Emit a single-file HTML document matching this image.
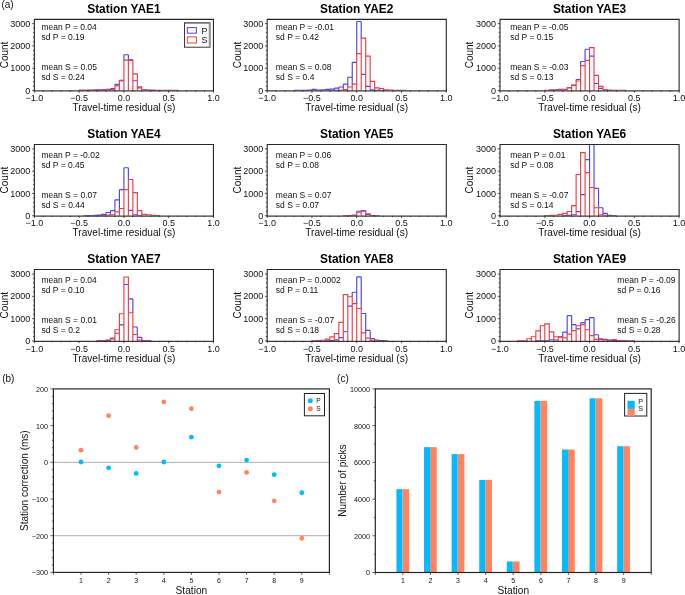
<!DOCTYPE html><html><head><meta charset="utf-8"><style>html,body{margin:0;padding:0;background:#fff;overflow:hidden}svg{display:block;will-change:transform}text{font-family:"Liberation Sans",sans-serif}</style></head><body>
<svg width="685" height="595" viewBox="0 0 685 595">
<rect width="685" height="595" fill="#fff"/>
<clipPath id="clip00"><rect x="34.35" y="19.4" width="179.1" height="71.15"/></clipPath>
<text x="123.9" y="13" font-size="11.9" font-weight="bold" text-anchor="middle" fill="#000">Station YAE1</text>
<path clip-path="url(#clip00)" fill="none" stroke="#4646f2" stroke-width="1.15" d="M97.03 89.99V89.88M101.51 89.88V89.77M105.99 89.75V89.44M110.47 89.32V88.65M114.95 85.87V84.33M119.42 80.96V80.25M123.9 60.11V54.71M128.38 60.11V54.71M132.86 60.31V59.78M79.12 90.37H83.6M83.6 90.33H88.08M88.08 90.22H92.56M92.56 90.1H97.04M97.03 89.88H101.51M101.51 89.77H105.99M105.99 89.44H110.47M110.47 88.65H114.95M114.95 84.33H119.42M119.42 80.25H123.9M123.9 54.71H128.38M128.38 59.78H132.85M132.86 80.76H137.33M137.33 87.92H141.81M141.81 89.75H146.29M146.29 90.22H150.76M150.77 90.37H155.24"/>
<path clip-path="url(#clip00)" fill="none" stroke="#ea3f48" stroke-width="1.15" stroke-linecap="square" d="M79.12 90.55V90.33M83.6 90.55V90.22M88.08 90.55V90.1M92.56 90.55V89.99M97.03 90.55V89.99M101.51 90.55V89.88M105.99 90.55V89.75M110.47 90.55V89.32M114.95 90.55V85.87M119.42 90.55V80.96M123.9 90.55V60.11M128.38 90.55V60.11M132.86 90.55V60.31M137.33 90.55V73.94M141.81 90.55V86.89M146.29 90.55V89.75M150.77 90.55V90.1M155.24 90.55V90.33M159.72 90.55V90.44M164.2 90.55V90.44M168.68 90.55V90.44M173.15 90.55V90.44M177.63 90.55V90.44M79.12 90.33H83.6M83.6 90.22H88.08M88.08 90.1H92.56M92.56 89.99H97.04M97.03 89.99H101.51M101.51 89.88H105.99M105.99 89.75H110.47M110.47 89.32H114.95M114.95 85.87H119.42M119.42 80.96H123.9M123.9 60.11H128.38M128.38 60.31H132.85M132.86 73.94H137.33M137.33 86.89H141.81M141.81 89.75H146.29M146.29 90.1H150.76M150.77 90.33H155.24M155.24 90.44H159.72M159.72 90.44H164.2M164.2 90.44H168.67M168.68 90.44H173.15M173.15 90.44H177.63"/>
<path d="M34.35 90.9V19.4H213.45V90.9" fill="none" stroke="#262626" stroke-width="1.1"/>
<path d="M33.8 90.9H214" fill="none" stroke="#3a3a3a" stroke-width="1.25"/>
<path d="M32.15 90.55H34.35M33.05 86.09H34.35M33.05 81.63H34.35M33.05 77.17H34.35M33.05 72.71H34.35M32.15 68.25H34.35M33.05 63.79H34.35M33.05 59.33H34.35M33.05 54.87H34.35M33.05 50.41H34.35M32.15 45.95H34.35M33.05 41.49H34.35M33.05 37.03H34.35M33.05 32.57H34.35M33.05 28.11H34.35M32.15 23.65H34.35M34.35 90.55V92.75M43.31 90.55V91.85M52.26 90.55V91.85M61.22 90.55V91.85M70.17 90.55V91.85M79.12 90.55V92.75M88.08 90.55V91.85M97.04 90.55V91.85M105.99 90.55V91.85M114.95 90.55V91.85M123.9 90.55V92.75M132.86 90.55V91.85M141.81 90.55V91.85M150.77 90.55V91.85M159.72 90.55V91.85M168.68 90.55V92.75M177.63 90.55V91.85M186.59 90.55V91.85M195.54 90.55V91.85M204.5 90.55V91.85M213.45 90.55V92.75" stroke="#262626" stroke-width="0.8" fill="none"/>
<text x="30.35" y="93.65" font-size="9" text-anchor="end" fill="#111">0</text>
<text x="30.35" y="71.35" font-size="9" text-anchor="end" fill="#111">1000</text>
<text x="30.35" y="49.05" font-size="9" text-anchor="end" fill="#111">2000</text>
<text x="30.35" y="26.75" font-size="9" text-anchor="end" fill="#111">3000</text>
<text x="34.35" y="101.15" font-size="9" text-anchor="middle" fill="#111">−1.0</text>
<text x="79.12" y="101.15" font-size="9" text-anchor="middle" fill="#111">−0.5</text>
<text x="123.9" y="101.15" font-size="9" text-anchor="middle" fill="#111">0.0</text>
<text x="168.68" y="101.15" font-size="9" text-anchor="middle" fill="#111">0.5</text>
<text x="213.45" y="101.15" font-size="9" text-anchor="middle" fill="#111">1.0</text>
<text x="123.9" y="111.25" font-size="10.1" text-anchor="middle" fill="#111">Travel-time residual (s)</text>
<text transform="translate(7.75 54.97) rotate(-90)" font-size="10" text-anchor="middle" fill="#111">Count</text>
<text x="41.45" y="30" font-size="8.5" fill="#111">mean P = 0.04</text>
<text x="41.45" y="40.2" font-size="8.5" fill="#111">sd P = 0.19</text>
<text x="41.45" y="70" font-size="8.5" fill="#111">mean S = 0.05</text>
<text x="41.45" y="80.2" font-size="8.5" fill="#111">sd S = 0.24</text>
<clipPath id="clip01"><rect x="267.18" y="19.4" width="179.1" height="71.15"/></clipPath>
<text x="356.73" y="13" font-size="11.9" font-weight="bold" text-anchor="middle" fill="#000">Station YAE2</text>
<path clip-path="url(#clip01)" fill="none" stroke="#4646f2" stroke-width="1.15" d="M294.05 90.55V90.44M298.52 90.55V90.44M303 90.55V90.33M307.48 90.55V90.15M311.96 90.55V89.32M316.43 90.55V89.32M320.91 90.55V89.88M325.39 90.55V89.32M329.87 90.55V89.17M334.34 90.33V88.16M338.82 90.22V87.03M343.3 89.55V84.13M347.78 87.03V77.21M352.25 84.13V62.34M356.73 53.67V21.51M361.21 38.14V21.51M294.05 90.44H298.52M298.52 90.44H303M303 90.33H307.48M307.48 90.15H311.96M311.96 89.32H316.43M316.43 90.15H320.91M320.91 89.88H325.39M325.39 89.32H329.87M329.87 89.17H334.34M334.34 88.16H338.82M338.82 87.03H343.3M343.3 84.13H347.78M347.78 77.21H352.25M352.25 62.34H356.73M356.73 21.51H361.21M361.21 74.32H365.69M365.69 86.4H370.16M370.16 89.81H374.64M374.64 90.33H379.12M379.12 90.33H383.6"/>
<path clip-path="url(#clip01)" fill="none" stroke="#ea3f48" stroke-width="1.15" stroke-linecap="square" d="M334.34 90.55V90.33M338.82 90.55V90.22M343.3 90.55V89.55M347.78 90.55V87.03M352.25 90.55V84.13M356.73 90.55V53.67M361.21 90.55V38.14M365.69 90.55V38.14M370.16 90.55V56.19M374.64 90.55V81.36M379.12 90.55V87.92M383.6 90.55V88.54M388.07 90.55V89.81M392.55 90.55V90.15M397.03 90.55V90.33M401.5 90.55V90.37M405.98 90.55V90.44M334.34 90.33H338.82M338.82 90.22H343.3M343.3 89.55H347.78M347.78 87.03H352.25M352.25 84.13H356.73M356.73 53.67H361.21M361.21 38.14H365.69M365.69 56.19H370.16M370.16 81.36H374.64M374.64 87.92H379.12M379.12 88.54H383.6M383.6 89.81H388.07M388.07 90.15H392.55M392.55 90.33H397.03M397.03 90.37H401.51M401.5 90.44H405.98"/>
<path d="M267.18 90.9V19.4H446.28V90.9" fill="none" stroke="#262626" stroke-width="1.1"/>
<path d="M266.63 90.9H446.83" fill="none" stroke="#3a3a3a" stroke-width="1.25"/>
<path d="M264.98 90.55H267.18M265.88 86.09H267.18M265.88 81.63H267.18M265.88 77.17H267.18M265.88 72.71H267.18M264.98 68.25H267.18M265.88 63.79H267.18M265.88 59.33H267.18M265.88 54.87H267.18M265.88 50.41H267.18M264.98 45.95H267.18M265.88 41.49H267.18M265.88 37.03H267.18M265.88 32.57H267.18M265.88 28.11H267.18M264.98 23.65H267.18M267.18 90.55V92.75M276.13 90.55V91.85M285.09 90.55V91.85M294.05 90.55V91.85M303 90.55V91.85M311.95 90.55V92.75M320.91 90.55V91.85M329.87 90.55V91.85M338.82 90.55V91.85M347.77 90.55V91.85M356.73 90.55V92.75M365.69 90.55V91.85M374.64 90.55V91.85M383.6 90.55V91.85M392.55 90.55V91.85M401.5 90.55V92.75M410.46 90.55V91.85M419.42 90.55V91.85M428.37 90.55V91.85M437.33 90.55V91.85M446.28 90.55V92.75" stroke="#262626" stroke-width="0.8" fill="none"/>
<text x="263.18" y="93.65" font-size="9" text-anchor="end" fill="#111">0</text>
<text x="263.18" y="71.35" font-size="9" text-anchor="end" fill="#111">1000</text>
<text x="263.18" y="49.05" font-size="9" text-anchor="end" fill="#111">2000</text>
<text x="263.18" y="26.75" font-size="9" text-anchor="end" fill="#111">3000</text>
<text x="267.18" y="101.15" font-size="9" text-anchor="middle" fill="#111">−1.0</text>
<text x="311.95" y="101.15" font-size="9" text-anchor="middle" fill="#111">−0.5</text>
<text x="356.73" y="101.15" font-size="9" text-anchor="middle" fill="#111">0.0</text>
<text x="401.5" y="101.15" font-size="9" text-anchor="middle" fill="#111">0.5</text>
<text x="446.28" y="101.15" font-size="9" text-anchor="middle" fill="#111">1.0</text>
<text x="356.73" y="111.25" font-size="10.1" text-anchor="middle" fill="#111">Travel-time residual (s)</text>
<text transform="translate(240.58 54.97) rotate(-90)" font-size="10" text-anchor="middle" fill="#111">Count</text>
<text x="275.85" y="30" font-size="8.5" fill="#111">mean P = -0.01</text>
<text x="275.85" y="40.2" font-size="8.5" fill="#111">sd P = 0.42</text>
<text x="275.85" y="70" font-size="8.5" fill="#111">mean S = 0.08</text>
<text x="275.85" y="80.2" font-size="8.5" fill="#111">sd S = 0.4</text>
<clipPath id="clip02"><rect x="500.01" y="19.4" width="179.1" height="71.15"/></clipPath>
<text x="589.56" y="13" font-size="11.9" font-weight="bold" text-anchor="middle" fill="#000">Station YAE3</text>
<path clip-path="url(#clip02)" fill="none" stroke="#4646f2" stroke-width="1.15" d="M553.74 89.99V89.88M558.22 89.88V89.44M562.7 89.66V89.44M576.13 80.98V79.47M580.61 65.6V61.47M585.08 60.44V49.25M549.26 90.1H553.74M553.74 89.88H558.22M558.22 89.44H562.7M562.7 89.44H567.17M567.17 87.92H571.65M571.65 85.38H576.13M576.13 79.47H580.61M580.61 61.47H585.08M585.08 49.25H589.56M589.56 56.19H594.04M594.04 83.5H598.51M598.52 88.3H602.99M602.99 90.06H607.47M607.47 90.37H611.95"/>
<path clip-path="url(#clip02)" fill="none" stroke="#ea3f48" stroke-width="1.15" stroke-linecap="square" d="M544.79 90.55V90.22M549.26 90.55V90.1M553.74 90.55V89.99M558.22 90.55V89.88M562.7 90.55V89.66M567.17 90.55V87.52M571.65 90.55V85.13M576.13 90.55V80.98M580.61 90.55V65.6M585.08 90.55V60.44M589.56 90.55V47.62M594.04 90.55V47.62M598.52 90.55V75.32M602.99 90.55V86.4M607.47 90.55V89.81M611.95 90.55V90.33M616.43 90.55V90.37M620.9 90.55V90.44M625.38 90.55V90.44M544.79 90.22H549.26M549.26 90.1H553.74M553.74 89.99H558.22M558.22 89.88H562.7M562.7 89.66H567.17M567.17 87.52H571.65M571.65 85.13H576.13M576.13 80.98H580.61M580.61 65.6H585.08M585.08 60.44H589.56M589.56 47.62H594.04M594.04 75.32H598.51M598.52 86.4H602.99M602.99 89.81H607.47M607.47 90.33H611.95M611.95 90.37H616.43M616.43 90.44H620.9M620.9 90.44H625.38"/>
<path d="M500.01 90.9V19.4H679.11V90.9" fill="none" stroke="#262626" stroke-width="1.1"/>
<path d="M499.46 90.9H679.66" fill="none" stroke="#3a3a3a" stroke-width="1.25"/>
<path d="M497.81 90.55H500.01M498.71 86.09H500.01M498.71 81.63H500.01M498.71 77.17H500.01M498.71 72.71H500.01M497.81 68.25H500.01M498.71 63.79H500.01M498.71 59.33H500.01M498.71 54.87H500.01M498.71 50.41H500.01M497.81 45.95H500.01M498.71 41.49H500.01M498.71 37.03H500.01M498.71 32.57H500.01M498.71 28.11H500.01M497.81 23.65H500.01M500.01 90.55V92.75M508.97 90.55V91.85M517.92 90.55V91.85M526.88 90.55V91.85M535.83 90.55V91.85M544.79 90.55V92.75M553.74 90.55V91.85M562.7 90.55V91.85M571.65 90.55V91.85M580.61 90.55V91.85M589.56 90.55V92.75M598.52 90.55V91.85M607.47 90.55V91.85M616.43 90.55V91.85M625.38 90.55V91.85M634.34 90.55V92.75M643.29 90.55V91.85M652.25 90.55V91.85M661.2 90.55V91.85M670.16 90.55V91.85M679.11 90.55V92.75" stroke="#262626" stroke-width="0.8" fill="none"/>
<text x="496.01" y="93.65" font-size="9" text-anchor="end" fill="#111">0</text>
<text x="496.01" y="71.35" font-size="9" text-anchor="end" fill="#111">1000</text>
<text x="496.01" y="49.05" font-size="9" text-anchor="end" fill="#111">2000</text>
<text x="496.01" y="26.75" font-size="9" text-anchor="end" fill="#111">3000</text>
<text x="500.01" y="101.15" font-size="9" text-anchor="middle" fill="#111">−1.0</text>
<text x="544.79" y="101.15" font-size="9" text-anchor="middle" fill="#111">−0.5</text>
<text x="589.56" y="101.15" font-size="9" text-anchor="middle" fill="#111">0.0</text>
<text x="634.34" y="101.15" font-size="9" text-anchor="middle" fill="#111">0.5</text>
<text x="679.11" y="101.15" font-size="9" text-anchor="middle" fill="#111">1.0</text>
<text x="589.56" y="111.25" font-size="10.1" text-anchor="middle" fill="#111">Travel-time residual (s)</text>
<text transform="translate(473.41 54.97) rotate(-90)" font-size="10" text-anchor="middle" fill="#111">Count</text>
<text x="510.2" y="30" font-size="8.5" fill="#111">mean P = -0.05</text>
<text x="510.2" y="40.2" font-size="8.5" fill="#111">sd P = 0.15</text>
<text x="510.2" y="70" font-size="8.5" fill="#111">mean S = -0.03</text>
<text x="510.2" y="80.2" font-size="8.5" fill="#111">sd S = 0.13</text>
<clipPath id="clip10"><rect x="34.35" y="144.45" width="179.1" height="71.3"/></clipPath>
<text x="123.9" y="138.05" font-size="11.9" font-weight="bold" text-anchor="middle" fill="#000">Station YAE4</text>
<path clip-path="url(#clip10)" fill="none" stroke="#4646f2" stroke-width="1.15" d="M83.6 215.75V215.57M88.08 215.75V215.53M92.56 215.75V215.3M97.03 215.53V215.08M101.51 215.3V214.37M105.99 215.08V212.47M110.47 214.75V210.58M114.95 211.85V199.87M119.42 208.46V189.55M123.9 189.55V167.76M128.38 179.47V167.76M83.6 215.57H88.08M88.08 215.53H92.56M92.56 215.3H97.04M97.03 215.08H101.51M101.51 214.37H105.99M105.99 212.47H110.47M110.47 210.58H114.95M114.95 199.87H119.42M119.42 189.55H123.9M123.9 167.76H128.38M128.38 210.33H132.85M132.86 214.75H137.33M137.33 215.53H141.81"/>
<path clip-path="url(#clip10)" fill="none" stroke="#ea3f48" stroke-width="1.15" stroke-linecap="square" d="M97.03 215.75V215.53M101.51 215.75V215.3M105.99 215.75V215.08M110.47 215.75V214.75M114.95 215.75V211.85M119.42 215.75V208.46M123.9 215.75V189.55M128.38 215.75V179.47M132.86 215.75V179.47M137.33 215.75V192.58M141.81 215.75V210.58M146.29 215.75V214.37M150.77 215.75V214.75M155.24 215.75V215.42M159.72 215.75V215.57M97.03 215.53H101.51M101.51 215.3H105.99M105.99 215.08H110.47M110.47 214.75H114.95M114.95 211.85H119.42M119.42 208.46H123.9M123.9 189.55H128.38M128.38 179.47H132.85M132.86 192.58H137.33M137.33 210.58H141.81M141.81 214.37H146.29M146.29 214.75H150.76M150.77 215.42H155.24M155.24 215.57H159.72"/>
<path d="M34.35 216.1V144.45H213.45V216.1" fill="none" stroke="#262626" stroke-width="1.1"/>
<path d="M33.8 216.1H214" fill="none" stroke="#3a3a3a" stroke-width="1.25"/>
<path d="M32.15 215.75H34.35M33.05 211.29H34.35M33.05 206.83H34.35M33.05 202.37H34.35M33.05 197.91H34.35M32.15 193.45H34.35M33.05 188.99H34.35M33.05 184.53H34.35M33.05 180.07H34.35M33.05 175.61H34.35M32.15 171.15H34.35M33.05 166.69H34.35M33.05 162.23H34.35M33.05 157.77H34.35M33.05 153.31H34.35M32.15 148.85H34.35M34.35 215.75V217.95M43.31 215.75V217.05M52.26 215.75V217.05M61.22 215.75V217.05M70.17 215.75V217.05M79.12 215.75V217.95M88.08 215.75V217.05M97.04 215.75V217.05M105.99 215.75V217.05M114.95 215.75V217.05M123.9 215.75V217.95M132.86 215.75V217.05M141.81 215.75V217.05M150.77 215.75V217.05M159.72 215.75V217.05M168.68 215.75V217.95M177.63 215.75V217.05M186.59 215.75V217.05M195.54 215.75V217.05M204.5 215.75V217.05M213.45 215.75V217.95" stroke="#262626" stroke-width="0.8" fill="none"/>
<text x="30.35" y="218.85" font-size="9" text-anchor="end" fill="#111">0</text>
<text x="30.35" y="196.55" font-size="9" text-anchor="end" fill="#111">1000</text>
<text x="30.35" y="174.25" font-size="9" text-anchor="end" fill="#111">2000</text>
<text x="30.35" y="151.95" font-size="9" text-anchor="end" fill="#111">3000</text>
<text x="34.35" y="226.35" font-size="9" text-anchor="middle" fill="#111">−1.0</text>
<text x="79.12" y="226.35" font-size="9" text-anchor="middle" fill="#111">−0.5</text>
<text x="123.9" y="226.35" font-size="9" text-anchor="middle" fill="#111">0.0</text>
<text x="168.68" y="226.35" font-size="9" text-anchor="middle" fill="#111">0.5</text>
<text x="213.45" y="226.35" font-size="9" text-anchor="middle" fill="#111">1.0</text>
<text x="123.9" y="236.45" font-size="10.1" text-anchor="middle" fill="#111">Travel-time residual (s)</text>
<text transform="translate(7.75 180.1) rotate(-90)" font-size="10" text-anchor="middle" fill="#111">Count</text>
<text x="41.45" y="157.85" font-size="8.5" fill="#111">mean P = -0.02</text>
<text x="41.45" y="167.85" font-size="8.5" fill="#111">sd P = 0.45</text>
<text x="41.45" y="197.65" font-size="8.5" fill="#111">mean S = 0.07</text>
<text x="41.45" y="207.65" font-size="8.5" fill="#111">sd S = 0.44</text>
<clipPath id="clip11"><rect x="267.18" y="144.45" width="179.1" height="71.3"/></clipPath>
<text x="356.73" y="138.05" font-size="11.9" font-weight="bold" text-anchor="middle" fill="#000">Station YAE5</text>
<path clip-path="url(#clip11)" fill="none" stroke="#4646f2" stroke-width="1.15" d="M356.73 212.23V211.22M361.21 211.22V210.6M365.69 211.22V210.6M347.78 215.57H352.25M352.25 215.26H356.73M356.73 211.22H361.21M361.21 210.6H365.69M365.69 214.37H370.16M370.16 215.64H374.64"/>
<path clip-path="url(#clip11)" fill="none" stroke="#ea3f48" stroke-width="1.15" stroke-linecap="square" d="M343.3 215.75V215.64M347.78 215.75V215.57M352.25 215.75V215.26M356.73 215.75V212.23M361.21 215.75V211.22M365.69 215.75V211.22M370.16 215.75V213.74M374.64 215.75V215.53M379.12 215.75V215.64M343.3 215.64H347.78M347.78 215.57H352.25M352.25 215.26H356.73M356.73 212.23H361.21M361.21 211.22H365.69M365.69 213.74H370.16M370.16 215.53H374.64M374.64 215.64H379.12"/>
<path d="M267.18 216.1V144.45H446.28V216.1" fill="none" stroke="#262626" stroke-width="1.1"/>
<path d="M266.63 216.1H446.83" fill="none" stroke="#3a3a3a" stroke-width="1.25"/>
<path d="M264.98 215.75H267.18M265.88 211.29H267.18M265.88 206.83H267.18M265.88 202.37H267.18M265.88 197.91H267.18M264.98 193.45H267.18M265.88 188.99H267.18M265.88 184.53H267.18M265.88 180.07H267.18M265.88 175.61H267.18M264.98 171.15H267.18M265.88 166.69H267.18M265.88 162.23H267.18M265.88 157.77H267.18M265.88 153.31H267.18M264.98 148.85H267.18M267.18 215.75V217.95M276.13 215.75V217.05M285.09 215.75V217.05M294.05 215.75V217.05M303 215.75V217.05M311.95 215.75V217.95M320.91 215.75V217.05M329.87 215.75V217.05M338.82 215.75V217.05M347.77 215.75V217.05M356.73 215.75V217.95M365.69 215.75V217.05M374.64 215.75V217.05M383.6 215.75V217.05M392.55 215.75V217.05M401.5 215.75V217.95M410.46 215.75V217.05M419.42 215.75V217.05M428.37 215.75V217.05M437.33 215.75V217.05M446.28 215.75V217.95" stroke="#262626" stroke-width="0.8" fill="none"/>
<text x="263.18" y="218.85" font-size="9" text-anchor="end" fill="#111">0</text>
<text x="263.18" y="196.55" font-size="9" text-anchor="end" fill="#111">1000</text>
<text x="263.18" y="174.25" font-size="9" text-anchor="end" fill="#111">2000</text>
<text x="263.18" y="151.95" font-size="9" text-anchor="end" fill="#111">3000</text>
<text x="267.18" y="226.35" font-size="9" text-anchor="middle" fill="#111">−1.0</text>
<text x="311.95" y="226.35" font-size="9" text-anchor="middle" fill="#111">−0.5</text>
<text x="356.73" y="226.35" font-size="9" text-anchor="middle" fill="#111">0.0</text>
<text x="401.5" y="226.35" font-size="9" text-anchor="middle" fill="#111">0.5</text>
<text x="446.28" y="226.35" font-size="9" text-anchor="middle" fill="#111">1.0</text>
<text x="356.73" y="236.45" font-size="10.1" text-anchor="middle" fill="#111">Travel-time residual (s)</text>
<text transform="translate(240.58 180.1) rotate(-90)" font-size="10" text-anchor="middle" fill="#111">Count</text>
<text x="275.85" y="157.85" font-size="8.5" fill="#111">mean P = 0.06</text>
<text x="275.85" y="167.85" font-size="8.5" fill="#111">sd P = 0.08</text>
<text x="275.85" y="197.65" font-size="8.5" fill="#111">mean S = 0.07</text>
<text x="275.85" y="207.65" font-size="8.5" fill="#111">sd S = 0.07</text>
<clipPath id="clip12"><rect x="500.01" y="144.45" width="179.1" height="71.3"/></clipPath>
<text x="589.56" y="138.05" font-size="11.9" font-weight="bold" text-anchor="middle" fill="#000">Station YAE6</text>
<path clip-path="url(#clip12)" fill="none" stroke="#4646f2" stroke-width="1.15" d="M589.56 172.55V137.7M594.04 187.54V137.7M598.52 207.7V188.3M602.99 214.75V207.7M607.47 215.26V213.36M611.95 215.57V215.26M616.43 215.75V215.53M562.7 215.53H567.17M567.17 215.3H571.65M571.65 214.75H576.13M576.13 211.6H580.61M580.61 194.59H585.08M585.08 159.55H589.56M589.56 137.7H594.04M594.04 188.3H598.51M598.52 207.7H602.99M602.99 213.36H607.47M607.47 215.26H611.95M611.95 215.53H616.43"/>
<path clip-path="url(#clip12)" fill="none" stroke="#ea3f48" stroke-width="1.15" stroke-linecap="square" d="M544.79 215.75V215.53M549.26 215.75V215.42M553.74 215.75V215.26M558.22 215.75V214.37M562.7 215.75V213.36M567.17 215.75V211.47M571.65 215.75V205.56M576.13 215.75V174.45M580.61 215.75V152.66M585.08 215.75V152.66M589.56 215.75V172.55M594.04 215.75V187.54M598.52 215.75V207.7M602.99 215.75V214.75M607.47 215.75V215.26M611.95 215.75V215.57M544.79 215.53H549.26M549.26 215.42H553.74M553.74 215.26H558.22M558.22 214.37H562.7M562.7 213.36H567.17M567.17 211.47H571.65M571.65 205.56H576.13M576.13 174.45H580.61M580.61 152.66H585.08M585.08 172.55H589.56M589.56 187.54H594.04M594.04 207.7H598.51M598.52 214.75H602.99M602.99 215.26H607.47M607.47 215.57H611.95"/>
<path d="M500.01 216.1V144.45H679.11V216.1" fill="none" stroke="#262626" stroke-width="1.1"/>
<path d="M499.46 216.1H679.66" fill="none" stroke="#3a3a3a" stroke-width="1.25"/>
<path d="M497.81 215.75H500.01M498.71 211.29H500.01M498.71 206.83H500.01M498.71 202.37H500.01M498.71 197.91H500.01M497.81 193.45H500.01M498.71 188.99H500.01M498.71 184.53H500.01M498.71 180.07H500.01M498.71 175.61H500.01M497.81 171.15H500.01M498.71 166.69H500.01M498.71 162.23H500.01M498.71 157.77H500.01M498.71 153.31H500.01M497.81 148.85H500.01M500.01 215.75V217.95M508.97 215.75V217.05M517.92 215.75V217.05M526.88 215.75V217.05M535.83 215.75V217.05M544.79 215.75V217.95M553.74 215.75V217.05M562.7 215.75V217.05M571.65 215.75V217.05M580.61 215.75V217.05M589.56 215.75V217.95M598.52 215.75V217.05M607.47 215.75V217.05M616.43 215.75V217.05M625.38 215.75V217.05M634.34 215.75V217.95M643.29 215.75V217.05M652.25 215.75V217.05M661.2 215.75V217.05M670.16 215.75V217.05M679.11 215.75V217.95" stroke="#262626" stroke-width="0.8" fill="none"/>
<text x="496.01" y="218.85" font-size="9" text-anchor="end" fill="#111">0</text>
<text x="496.01" y="196.55" font-size="9" text-anchor="end" fill="#111">1000</text>
<text x="496.01" y="174.25" font-size="9" text-anchor="end" fill="#111">2000</text>
<text x="496.01" y="151.95" font-size="9" text-anchor="end" fill="#111">3000</text>
<text x="500.01" y="226.35" font-size="9" text-anchor="middle" fill="#111">−1.0</text>
<text x="544.79" y="226.35" font-size="9" text-anchor="middle" fill="#111">−0.5</text>
<text x="589.56" y="226.35" font-size="9" text-anchor="middle" fill="#111">0.0</text>
<text x="634.34" y="226.35" font-size="9" text-anchor="middle" fill="#111">0.5</text>
<text x="679.11" y="226.35" font-size="9" text-anchor="middle" fill="#111">1.0</text>
<text x="589.56" y="236.45" font-size="10.1" text-anchor="middle" fill="#111">Travel-time residual (s)</text>
<text transform="translate(473.41 180.1) rotate(-90)" font-size="10" text-anchor="middle" fill="#111">Count</text>
<text x="510.2" y="157.85" font-size="8.5" fill="#111">mean P = 0.01</text>
<text x="510.2" y="167.85" font-size="8.5" fill="#111">sd P = 0.08</text>
<text x="510.2" y="197.65" font-size="8.5" fill="#111">mean S = -0.07</text>
<text x="510.2" y="207.65" font-size="8.5" fill="#111">sd S = 0.14</text>
<clipPath id="clip20"><rect x="34.35" y="269.5" width="179.1" height="71.45"/></clipPath>
<text x="123.9" y="263.1" font-size="11.9" font-weight="bold" text-anchor="middle" fill="#000">Station YAE7</text>
<path clip-path="url(#clip20)" fill="none" stroke="#4646f2" stroke-width="1.15" d="M132.86 312.74V298.87M137.33 334.53V326.97M141.81 339.95V337.43M146.29 340.62V340.46M97.03 340.77H101.51M101.51 340.73H105.99M105.99 340.46H110.47M110.47 338.94H114.95M114.95 333.28H119.42M119.42 324.83H123.9M123.9 284.51H128.38M128.38 298.87H132.85M132.86 326.97H137.33M137.33 337.43H141.81M141.81 340.46H146.29M146.29 340.73H150.76"/>
<path clip-path="url(#clip20)" fill="none" stroke="#ea3f48" stroke-width="1.15" stroke-linecap="square" d="M97.03 340.95V340.77M101.51 340.95V340.62M105.99 340.95V339.95M110.47 340.95V338.05M114.95 340.95V329.73M119.42 340.95V313.74M123.9 340.95V276.97M128.38 340.95V276.97M132.86 340.95V312.74M137.33 340.95V334.53M141.81 340.95V339.95M146.29 340.95V340.62M150.77 340.95V340.77M97.03 340.77H101.51M101.51 340.62H105.99M105.99 339.95H110.47M110.47 338.05H114.95M114.95 329.73H119.42M119.42 313.74H123.9M123.9 276.97H128.38M128.38 312.74H132.85M132.86 334.53H137.33M137.33 339.95H141.81M141.81 340.62H146.29M146.29 340.77H150.76"/>
<path d="M34.35 341.3V269.5H213.45V341.3" fill="none" stroke="#262626" stroke-width="1.1"/>
<path d="M33.8 341.3H214" fill="none" stroke="#3a3a3a" stroke-width="1.25"/>
<path d="M32.15 340.95H34.35M33.05 336.49H34.35M33.05 332.03H34.35M33.05 327.57H34.35M33.05 323.11H34.35M32.15 318.65H34.35M33.05 314.19H34.35M33.05 309.73H34.35M33.05 305.27H34.35M33.05 300.81H34.35M32.15 296.35H34.35M33.05 291.89H34.35M33.05 287.43H34.35M33.05 282.97H34.35M33.05 278.51H34.35M32.15 274.05H34.35M34.35 340.95V343.15M43.31 340.95V342.25M52.26 340.95V342.25M61.22 340.95V342.25M70.17 340.95V342.25M79.12 340.95V343.15M88.08 340.95V342.25M97.04 340.95V342.25M105.99 340.95V342.25M114.95 340.95V342.25M123.9 340.95V343.15M132.86 340.95V342.25M141.81 340.95V342.25M150.77 340.95V342.25M159.72 340.95V342.25M168.68 340.95V343.15M177.63 340.95V342.25M186.59 340.95V342.25M195.54 340.95V342.25M204.5 340.95V342.25M213.45 340.95V343.15" stroke="#262626" stroke-width="0.8" fill="none"/>
<text x="30.35" y="344.05" font-size="9" text-anchor="end" fill="#111">0</text>
<text x="30.35" y="321.75" font-size="9" text-anchor="end" fill="#111">1000</text>
<text x="30.35" y="299.45" font-size="9" text-anchor="end" fill="#111">2000</text>
<text x="30.35" y="277.15" font-size="9" text-anchor="end" fill="#111">3000</text>
<text x="34.35" y="351.55" font-size="9" text-anchor="middle" fill="#111">−1.0</text>
<text x="79.12" y="351.55" font-size="9" text-anchor="middle" fill="#111">−0.5</text>
<text x="123.9" y="351.55" font-size="9" text-anchor="middle" fill="#111">0.0</text>
<text x="168.68" y="351.55" font-size="9" text-anchor="middle" fill="#111">0.5</text>
<text x="213.45" y="351.55" font-size="9" text-anchor="middle" fill="#111">1.0</text>
<text x="123.9" y="361.65" font-size="10.1" text-anchor="middle" fill="#111">Travel-time residual (s)</text>
<text transform="translate(7.75 305.23) rotate(-90)" font-size="10" text-anchor="middle" fill="#111">Count</text>
<text x="41.45" y="282.9" font-size="8.5" fill="#111">mean P = 0.04</text>
<text x="41.45" y="292.9" font-size="8.5" fill="#111">sd P = 0.10</text>
<text x="41.45" y="322.7" font-size="8.5" fill="#111">mean S = 0.01</text>
<text x="41.45" y="332.7" font-size="8.5" fill="#111">sd S = 0.2</text>
<clipPath id="clip21"><rect x="267.18" y="269.5" width="179.1" height="71.45"/></clipPath>
<text x="356.73" y="263.1" font-size="11.9" font-weight="bold" text-anchor="middle" fill="#000">Station YAE8</text>
<path clip-path="url(#clip21)" fill="none" stroke="#4646f2" stroke-width="1.15" d="M352.25 296.75V292.22M356.73 303.66V276.84M361.21 308.46V276.84M365.69 332.9V313.5M370.16 338.05V330.38M374.64 340.21V338.56M379.12 340.73V339.95M383.6 340.95V340.46M388.07 340.95V340.73M325.39 340.73H329.87M329.87 340.46H334.34M334.34 339.83H338.82M338.82 337.67H343.3M343.3 331.76H347.78M347.78 306.07H352.25M352.25 292.22H356.73M356.73 276.84H361.21M361.21 313.5H365.69M365.69 330.38H370.16M370.16 338.56H374.64M374.64 339.95H379.12M379.12 340.46H383.6M383.6 340.73H388.07"/>
<path clip-path="url(#clip21)" fill="none" stroke="#ea3f48" stroke-width="1.15" stroke-linecap="square" d="M311.96 340.95V340.73M316.43 340.95V340.62M320.91 340.95V340.21M325.39 340.95V339.19M329.87 340.95V336.8M334.34 340.95V333.66M338.82 340.95V322.31M343.3 340.95V294.61M347.78 340.95V294.61M352.25 340.95V296.75M356.73 340.95V303.66M361.21 340.95V308.46M365.69 340.95V332.9M370.16 340.95V338.05M374.64 340.95V340.21M379.12 340.95V340.73M311.96 340.73H316.43M316.43 340.62H320.91M320.91 340.21H325.39M325.39 339.19H329.87M329.87 336.8H334.34M334.34 333.66H338.82M338.82 322.31H343.3M343.3 294.61H347.78M347.78 296.75H352.25M352.25 303.66H356.73M356.73 308.46H361.21M361.21 332.9H365.69M365.69 338.05H370.16M370.16 340.21H374.64M374.64 340.73H379.12"/>
<path d="M267.18 341.3V269.5H446.28V341.3" fill="none" stroke="#262626" stroke-width="1.1"/>
<path d="M266.63 341.3H446.83" fill="none" stroke="#3a3a3a" stroke-width="1.25"/>
<path d="M264.98 340.95H267.18M265.88 336.49H267.18M265.88 332.03H267.18M265.88 327.57H267.18M265.88 323.11H267.18M264.98 318.65H267.18M265.88 314.19H267.18M265.88 309.73H267.18M265.88 305.27H267.18M265.88 300.81H267.18M264.98 296.35H267.18M265.88 291.89H267.18M265.88 287.43H267.18M265.88 282.97H267.18M265.88 278.51H267.18M264.98 274.05H267.18M267.18 340.95V343.15M276.13 340.95V342.25M285.09 340.95V342.25M294.05 340.95V342.25M303 340.95V342.25M311.95 340.95V343.15M320.91 340.95V342.25M329.87 340.95V342.25M338.82 340.95V342.25M347.77 340.95V342.25M356.73 340.95V343.15M365.69 340.95V342.25M374.64 340.95V342.25M383.6 340.95V342.25M392.55 340.95V342.25M401.5 340.95V343.15M410.46 340.95V342.25M419.42 340.95V342.25M428.37 340.95V342.25M437.33 340.95V342.25M446.28 340.95V343.15" stroke="#262626" stroke-width="0.8" fill="none"/>
<text x="263.18" y="344.05" font-size="9" text-anchor="end" fill="#111">0</text>
<text x="263.18" y="321.75" font-size="9" text-anchor="end" fill="#111">1000</text>
<text x="263.18" y="299.45" font-size="9" text-anchor="end" fill="#111">2000</text>
<text x="263.18" y="277.15" font-size="9" text-anchor="end" fill="#111">3000</text>
<text x="267.18" y="351.55" font-size="9" text-anchor="middle" fill="#111">−1.0</text>
<text x="311.95" y="351.55" font-size="9" text-anchor="middle" fill="#111">−0.5</text>
<text x="356.73" y="351.55" font-size="9" text-anchor="middle" fill="#111">0.0</text>
<text x="401.5" y="351.55" font-size="9" text-anchor="middle" fill="#111">0.5</text>
<text x="446.28" y="351.55" font-size="9" text-anchor="middle" fill="#111">1.0</text>
<text x="356.73" y="361.65" font-size="10.1" text-anchor="middle" fill="#111">Travel-time residual (s)</text>
<text transform="translate(240.58 305.23) rotate(-90)" font-size="10" text-anchor="middle" fill="#111">Count</text>
<text x="275.85" y="282.9" font-size="8.5" fill="#111">mean P = 0.0002</text>
<text x="275.85" y="292.9" font-size="8.5" fill="#111">sd P = 0.11</text>
<text x="275.85" y="322.7" font-size="8.5" fill="#111">mean S = -0.07</text>
<text x="275.85" y="332.7" font-size="8.5" fill="#111">sd S = 0.18</text>
<clipPath id="clip22"><rect x="500.01" y="269.5" width="179.1" height="71.45"/></clipPath>
<text x="589.56" y="263.1" font-size="11.9" font-weight="bold" text-anchor="middle" fill="#000">Station YAE9</text>
<path clip-path="url(#clip22)" fill="none" stroke="#4646f2" stroke-width="1.15" d="M562.7 337.14V332.14M567.17 334.06V315.68M571.65 330.56V315.68M576.13 325.74V324.69M580.61 324.6V322.66M585.08 324.6V319.61M589.56 329.71V317.6M594.04 335.66V317.6M598.52 339.32V334.75M602.99 339.57V338.7M607.47 340.01V339.32M535.83 340.84H540.31M540.31 340.84H544.78M544.79 340.84H549.26M549.26 339.75H553.74M553.74 340.01H558.22M558.22 336.71H562.7M562.7 332.14H567.17M567.17 315.68H571.65M571.65 324.69H576.13M576.13 328.8H580.61M580.61 322.66H585.08M585.08 319.61H589.56M589.56 317.6H594.04M594.04 334.75H598.51M598.52 338.7H602.99M602.99 339.32H607.47M607.47 340.19H611.95M611.95 340.62H616.43M616.43 340.84H620.9M620.9 340.88H625.38"/>
<path clip-path="url(#clip22)" fill="none" stroke="#ea3f48" stroke-width="1.15" stroke-linecap="square" d="M517.92 340.95V340.84M522.4 340.95V340.73M526.88 340.95V338.72M531.35 340.95V336.71M535.83 340.95V330.83M540.31 340.95V325.74M544.79 340.95V323.82M549.26 340.95V323.82M553.74 340.95V331.87M558.22 340.95V336.71M562.7 340.95V337.14M567.17 340.95V334.06M571.65 340.95V330.56M576.13 340.95V325.74M580.61 340.95V324.6M585.08 340.95V324.6M589.56 340.95V329.71M594.04 340.95V335.66M598.52 340.95V339.32M602.99 340.95V339.57M607.47 340.95V340.01M611.95 340.95V339.57M616.43 340.95V339.57M620.9 340.95V340.62M625.38 340.95V340.84M629.86 340.95V340.84M634.34 340.95V340.88M517.92 340.84H522.4M522.4 340.73H526.88M526.88 338.72H531.35M531.35 336.71H535.83M535.83 330.83H540.31M540.31 325.74H544.78M544.79 323.82H549.26M549.26 331.87H553.74M553.74 336.71H558.22M558.22 337.14H562.7M562.7 337.83H567.17M567.17 334.06H571.65M571.65 330.56H576.13M576.13 325.74H580.61M580.61 324.6H585.08M585.08 329.71H589.56M589.56 335.66H594.04M594.04 339.32H598.51M598.52 339.57H602.99M602.99 340.01H607.47M607.47 340.62H611.95M611.95 339.57H616.43M616.43 340.62H620.9M620.9 340.84H625.38M625.38 340.84H629.86M629.86 340.88H634.34"/>
<path d="M500.01 341.3V269.5H679.11V341.3" fill="none" stroke="#262626" stroke-width="1.1"/>
<path d="M499.46 341.3H679.66" fill="none" stroke="#3a3a3a" stroke-width="1.25"/>
<path d="M497.81 340.95H500.01M498.71 336.49H500.01M498.71 332.03H500.01M498.71 327.57H500.01M498.71 323.11H500.01M497.81 318.65H500.01M498.71 314.19H500.01M498.71 309.73H500.01M498.71 305.27H500.01M498.71 300.81H500.01M497.81 296.35H500.01M498.71 291.89H500.01M498.71 287.43H500.01M498.71 282.97H500.01M498.71 278.51H500.01M497.81 274.05H500.01M500.01 340.95V343.15M508.97 340.95V342.25M517.92 340.95V342.25M526.88 340.95V342.25M535.83 340.95V342.25M544.79 340.95V343.15M553.74 340.95V342.25M562.7 340.95V342.25M571.65 340.95V342.25M580.61 340.95V342.25M589.56 340.95V343.15M598.52 340.95V342.25M607.47 340.95V342.25M616.43 340.95V342.25M625.38 340.95V342.25M634.34 340.95V343.15M643.29 340.95V342.25M652.25 340.95V342.25M661.2 340.95V342.25M670.16 340.95V342.25M679.11 340.95V343.15" stroke="#262626" stroke-width="0.8" fill="none"/>
<text x="496.01" y="344.05" font-size="9" text-anchor="end" fill="#111">0</text>
<text x="496.01" y="321.75" font-size="9" text-anchor="end" fill="#111">1000</text>
<text x="496.01" y="299.45" font-size="9" text-anchor="end" fill="#111">2000</text>
<text x="496.01" y="277.15" font-size="9" text-anchor="end" fill="#111">3000</text>
<text x="500.01" y="351.55" font-size="9" text-anchor="middle" fill="#111">−1.0</text>
<text x="544.79" y="351.55" font-size="9" text-anchor="middle" fill="#111">−0.5</text>
<text x="589.56" y="351.55" font-size="9" text-anchor="middle" fill="#111">0.0</text>
<text x="634.34" y="351.55" font-size="9" text-anchor="middle" fill="#111">0.5</text>
<text x="679.11" y="351.55" font-size="9" text-anchor="middle" fill="#111">1.0</text>
<text x="589.56" y="361.65" font-size="10.1" text-anchor="middle" fill="#111">Travel-time residual (s)</text>
<text transform="translate(473.41 305.23) rotate(-90)" font-size="10" text-anchor="middle" fill="#111">Count</text>
<text x="617.35" y="282.9" font-size="8.5" fill="#111">mean P = -0.09</text>
<text x="617.35" y="292.9" font-size="8.5" fill="#111">sd P = 0.16</text>
<text x="617.35" y="322.7" font-size="8.5" fill="#111">mean S = -0.26</text>
<text x="617.35" y="332.7" font-size="8.5" fill="#111">sd S = 0.28</text>
<rect x="184.5" y="22.8" width="25.5" height="24.4" fill="#fff" stroke="#222" stroke-width="0.9"/>
<path d="M185 23.5H209.3V46.8" fill="none" stroke="#999" stroke-width="1.2"/>
<rect x="187.3" y="27.6" width="9.1" height="5.6" fill="none" stroke="#4646f2" stroke-width="1"/>
<rect x="187.3" y="36.9" width="9.1" height="6.1" fill="none" stroke="#ea3f48" stroke-width="1"/>
<text x="201.5" y="33.5" font-size="9" fill="#111">P</text>
<text x="201.5" y="43.2" font-size="9" fill="#111">S</text>
<text x="1.4" y="7.8" font-size="10" fill="#111">(a)</text>
<text x="2.2" y="382.2" font-size="10" fill="#111">(b)</text>
<path d="M53.4 462.3H329.4" stroke="#999" stroke-width="0.8"/>
<path d="M53.4 535.7H329.4" stroke="#999" stroke-width="0.8"/>
<circle cx="81" cy="462.01" r="2.4" fill="#00bbff"/>
<circle cx="81" cy="450.19" r="2.4" fill="#ff8461"/>
<circle cx="108.6" cy="467.8" r="2.4" fill="#00bbff"/>
<circle cx="108.6" cy="415.69" r="2.4" fill="#ff8461"/>
<circle cx="136.2" cy="473.42" r="2.4" fill="#00bbff"/>
<circle cx="136.2" cy="447.47" r="2.4" fill="#ff8461"/>
<circle cx="163.8" cy="462.01" r="2.4" fill="#00bbff"/>
<circle cx="163.8" cy="401.97" r="2.4" fill="#ff8461"/>
<circle cx="191.4" cy="437.16" r="2.4" fill="#00bbff"/>
<circle cx="191.4" cy="408.72" r="2.4" fill="#ff8461"/>
<circle cx="219" cy="465.82" r="2.4" fill="#00bbff"/>
<circle cx="219" cy="492.03" r="2.4" fill="#ff8461"/>
<circle cx="246.6" cy="460.1" r="2.4" fill="#00bbff"/>
<circle cx="246.6" cy="472.39" r="2.4" fill="#ff8461"/>
<circle cx="274.2" cy="474.7" r="2.4" fill="#00bbff"/>
<circle cx="274.2" cy="500.83" r="2.4" fill="#ff8461"/>
<circle cx="301.8" cy="492.76" r="2.4" fill="#00bbff"/>
<circle cx="301.8" cy="538.27" r="2.4" fill="#ff8461"/>
<rect x="53.4" y="388.9" width="276" height="183.5" fill="none" stroke="#262626" stroke-width="1.2"/>
<path d="M50.4 572.4H53.4M51.9 565.06H53.4M51.9 557.72H53.4M51.9 550.38H53.4M51.9 543.04H53.4M50.4 535.7H53.4M51.9 528.36H53.4M51.9 521.02H53.4M51.9 513.68H53.4M51.9 506.34H53.4M50.4 499H53.4M51.9 491.66H53.4M51.9 484.32H53.4M51.9 476.98H53.4M51.9 469.64H53.4M50.4 462.3H53.4M51.9 454.96H53.4M51.9 447.62H53.4M51.9 440.28H53.4M51.9 432.94H53.4M50.4 425.6H53.4M51.9 418.26H53.4M51.9 410.92H53.4M51.9 403.58H53.4M51.9 396.24H53.4M50.4 388.9H53.4M53.4 572.4V574.9M81 572.4V574.9M108.6 572.4V574.9M136.2 572.4V574.9M163.8 572.4V574.9M191.4 572.4V574.9M219 572.4V574.9M246.6 572.4V574.9M274.2 572.4V574.9M301.8 572.4V574.9M329.4 572.4V574.9" stroke="#262626" stroke-width="0.7" fill="none"/>
<text x="48" y="575.3" font-size="7.2" text-anchor="end" fill="#111">−300</text>
<text x="48" y="538.6" font-size="7.2" text-anchor="end" fill="#111">−200</text>
<text x="48" y="501.9" font-size="7.2" text-anchor="end" fill="#111">−100</text>
<text x="48" y="465.2" font-size="7.2" text-anchor="end" fill="#111">0</text>
<text x="48" y="428.5" font-size="7.2" text-anchor="end" fill="#111">100</text>
<text x="48" y="391.8" font-size="7.2" text-anchor="end" fill="#111">200</text>
<text x="81" y="583" font-size="7" text-anchor="middle" fill="#111">1</text>
<text x="108.6" y="583" font-size="7" text-anchor="middle" fill="#111">2</text>
<text x="136.2" y="583" font-size="7" text-anchor="middle" fill="#111">3</text>
<text x="163.8" y="583" font-size="7" text-anchor="middle" fill="#111">4</text>
<text x="191.4" y="583" font-size="7" text-anchor="middle" fill="#111">5</text>
<text x="219" y="583" font-size="7" text-anchor="middle" fill="#111">6</text>
<text x="246.6" y="583" font-size="7" text-anchor="middle" fill="#111">7</text>
<text x="274.2" y="583" font-size="7" text-anchor="middle" fill="#111">8</text>
<text x="301.8" y="583" font-size="7" text-anchor="middle" fill="#111">9</text>
<text x="191.4" y="594.4" font-size="10.2" text-anchor="middle" fill="#111">Station</text>
<text transform="translate(28.1 480.65) rotate(-90)" font-size="10" text-anchor="middle" fill="#111">Station correction (ms)</text>
<rect x="304.4" y="393.5" width="20.1" height="22.3" fill="#fff" stroke="#222" stroke-width="1"/>
<circle cx="310.3" cy="400.8" r="2.5" fill="#00bbff"/>
<circle cx="310.3" cy="408.7" r="2.5" fill="#ff8461"/>
<text x="316.2" y="403.0" font-size="6.6" fill="#111">P</text>
<text x="316.2" y="411.0" font-size="6.6" fill="#111">S</text>
<text x="337.1" y="382.2" font-size="10" fill="#111">(c)</text>
<rect x="396.44" y="489.13" width="6" height="83.37" fill="#00bbff"/>
<rect x="402.44" y="489.13" width="6.75" height="83.37" fill="#ff8461"/>
<rect x="424.03" y="447.12" width="6" height="125.38" fill="#00bbff"/>
<rect x="430.03" y="447.12" width="6.75" height="125.38" fill="#ff8461"/>
<rect x="451.62" y="454.13" width="6" height="118.37" fill="#00bbff"/>
<rect x="457.62" y="454.13" width="6.75" height="118.37" fill="#ff8461"/>
<rect x="479.21" y="479.89" width="6" height="92.61" fill="#00bbff"/>
<rect x="485.21" y="479.89" width="6.75" height="92.61" fill="#ff8461"/>
<rect x="506.8" y="561.48" width="6" height="11.02" fill="#00bbff"/>
<rect x="512.8" y="561.48" width="6.75" height="11.02" fill="#ff8461"/>
<rect x="534.39" y="400.98" width="6" height="171.52" fill="#00bbff"/>
<rect x="540.39" y="400.98" width="6.75" height="171.52" fill="#ff8461"/>
<rect x="561.98" y="449.52" width="6" height="122.98" fill="#00bbff"/>
<rect x="567.98" y="449.52" width="6.75" height="122.98" fill="#ff8461"/>
<rect x="589.57" y="398.32" width="6" height="174.18" fill="#00bbff"/>
<rect x="595.57" y="398.32" width="6.75" height="174.18" fill="#ff8461"/>
<rect x="617.16" y="446.22" width="6" height="126.28" fill="#00bbff"/>
<rect x="623.16" y="446.22" width="6.75" height="126.28" fill="#ff8461"/>
<rect x="375.3" y="388.9" width="275.9" height="183.6" fill="none" stroke="#262626" stroke-width="1.2"/>
<path d="M372.3 572.5H375.3M373.8 554.14H375.3M372.3 535.78H375.3M373.8 517.42H375.3M372.3 499.06H375.3M373.8 480.7H375.3M372.3 462.34H375.3M373.8 443.98H375.3M372.3 425.62H375.3M373.8 407.26H375.3M372.3 388.9H375.3M375.3 572.5V575M402.89 572.5V575M430.48 572.5V575M458.07 572.5V575M485.66 572.5V575M513.25 572.5V575M540.84 572.5V575M568.43 572.5V575M596.02 572.5V575M623.61 572.5V575M651.2 572.5V575" stroke="#262626" stroke-width="0.7" fill="none"/>
<text x="369.9" y="575.4" font-size="7.2" text-anchor="end" fill="#111">0</text>
<text x="369.9" y="538.68" font-size="7.2" text-anchor="end" fill="#111">2000</text>
<text x="369.9" y="501.96" font-size="7.2" text-anchor="end" fill="#111">4000</text>
<text x="369.9" y="465.24" font-size="7.2" text-anchor="end" fill="#111">6000</text>
<text x="369.9" y="428.52" font-size="7.2" text-anchor="end" fill="#111">8000</text>
<text x="369.9" y="391.8" font-size="7.2" text-anchor="end" fill="#111">10000</text>
<text x="402.89" y="583.1" font-size="7" text-anchor="middle" fill="#111">1</text>
<text x="430.48" y="583.1" font-size="7" text-anchor="middle" fill="#111">2</text>
<text x="458.07" y="583.1" font-size="7" text-anchor="middle" fill="#111">3</text>
<text x="485.66" y="583.1" font-size="7" text-anchor="middle" fill="#111">4</text>
<text x="513.25" y="583.1" font-size="7" text-anchor="middle" fill="#111">5</text>
<text x="540.84" y="583.1" font-size="7" text-anchor="middle" fill="#111">6</text>
<text x="568.43" y="583.1" font-size="7" text-anchor="middle" fill="#111">7</text>
<text x="596.02" y="583.1" font-size="7" text-anchor="middle" fill="#111">8</text>
<text x="623.61" y="583.1" font-size="7" text-anchor="middle" fill="#111">9</text>
<text x="513.25" y="594.4" font-size="10.2" text-anchor="middle" fill="#111">Station</text>
<text transform="translate(345.9 480.7) rotate(-90)" font-size="10" text-anchor="middle" fill="#111">Number of picks</text>
<rect x="624.6" y="393.4" width="22.2" height="22.6" fill="#fff" stroke="#222" stroke-width="1"/>
<rect x="627.5" y="400.8" width="7.2" height="8.1" fill="#00bbff"/>
<rect x="627.5" y="408.9" width="7.2" height="7.1" fill="#ff8461"/>
<text x="638.3" y="403.5" font-size="7.2" fill="#111">P</text>
<text x="638.3" y="411.3" font-size="7.2" fill="#111">S</text>
</svg></body></html>
